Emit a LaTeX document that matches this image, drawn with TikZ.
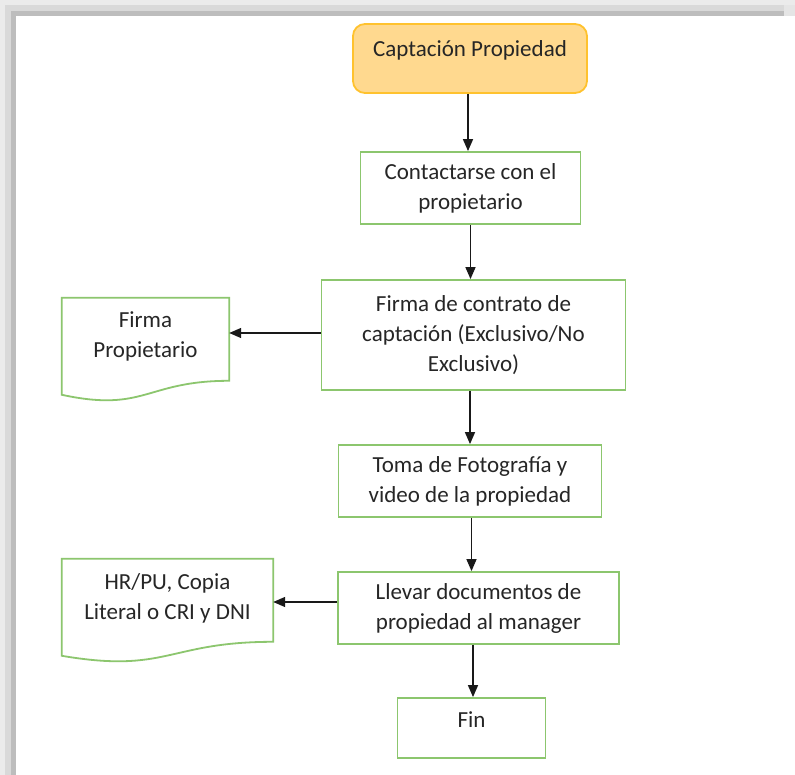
\documentclass[tikz,border=0pt]{standalone}
\usepackage{fontspec}
\setmainfont{Carlito}
\usetikzlibrary{arrows.meta,calc}

\definecolor{boxgreen}{HTML}{8CC66E}
\definecolor{startfill}{HTML}{FFD98F}
\definecolor{startline}{HTML}{FFC22E}
\definecolor{inktext}{HTML}{262626}

\tikzset{
  flowtext/.style={font=\fontsize{23}{30}\selectfont, text=inktext, align=center, inner sep=0pt},
  stepbox/.style={flowtext, draw=boxgreen, line width=1.8pt, fill=white},
  startbox/.style={flowtext, draw=startline, fill=startfill, line width=1.8pt, rounded corners=12pt},
  docnode/.style={flowtext},
  docshape/.style={draw=boxgreen, line width=1.8pt, fill=white},
  flowarrow/.style={draw=black!90, line width=1.4pt, -{Triangle[length=12pt,width=10pt]}}
}

\begin{document}
\begin{tikzpicture}[x=1pt,y=-1pt]
  \useasboundingbox (0,0) rectangle (795,775);
  \fill[white] (0,0) rectangle (795,775);

  % frame shadow along the top and left edges
  \fill[black!8]  (0,0) rectangle (795,5);
  \fill[black!15] (5,5) rectangle (784,11);
  \fill[black!26] (11,11) rectangle (784,16);
  \fill[black!10] (784,5) rectangle (795,16);
  \fill[black!8]  (0,0) rectangle (5,775);
  \fill[black!15] (5,5) rectangle (11,775);
  \fill[black!26] (11,11) rectangle (16,775);
  \fill[white] (16,16) rectangle (795,775);

  % process steps
  \node[startbox, minimum width=234pt, minimum height=69pt, text height=15pt, text depth=18pt]
    (start) at (470,58.5) {Captación Propiedad};
  \node[stepbox, minimum width=220pt, minimum height=72pt]
    (contact) at (470.5,188) {Contactarse con el\\propietario};
  \node[stepbox, minimum width=304pt, minimum height=110pt]
    (contract) at (473.5,335) {Firma de contrato de\\captación (Exclusivo/No\\Exclusivo)};
  \node[stepbox, minimum width=263pt, minimum height=72pt]
    (photo) at (470,481) {Toma de Fotografía y\\video de la propiedad};
  \node[stepbox, minimum width=281pt, minimum height=72pt]
    (docs) at (478.5,608) {Llevar documentos de\\propiedad al manager};
  \node[stepbox, minimum width=148pt, minimum height=60pt, text height=15pt, text depth=16pt]
    (fin) at (471.5,728) {Fin};

  % document symbols (wavy bottom edge)
  \node[docnode, minimum width=167pt, minimum height=76pt] (owner) at (145.5,336) {};
  \draw[docshape] (owner.north west) -- (owner.north east)
    -- ($(owner.north east)+(0,83)$)
    .. controls ($(owner.north)+(0,83)$) and ($(owner.north)+(0,115)$) ..
    ($(owner.north west)+(0,97)$) -- cycle;
  \node[docnode] at (owner) {Firma\\Propietario};

  \node[docnode, minimum width=211pt, minimum height=78pt] (papers) at (167.5,598) {};
  \draw[docshape] (papers.north west) -- (papers.north east)
    -- ($(papers.north east)+(0,83)$)
    .. controls ($(papers.north)+(0,83)$) and ($(papers.north)+(0,115)$) ..
    ($(papers.north west)+(0,97)$) -- cycle;
  \node[docnode] at (papers) {HR/PU, Copia\\Literal o CRI y DNI};

  % connectors
  \draw[flowarrow] ([xshift=-2pt]start.south) -- ([xshift=-2pt]start.south |- contact.north);
  \draw[flowarrow] (contact.south) -- (contact.south |- contract.north);
  \draw[flowarrow] ([xshift=-3.5pt]contract.south) -- ([xshift=-3.5pt]contract.south |- photo.north);
  \draw[flowarrow] ([xshift=1.5pt]photo.south) -- ([xshift=1.5pt]photo.south |- docs.north);
  \draw[flowarrow] ([xshift=1.5pt]fin.north |- docs.south) -- ([xshift=1.5pt]fin.north);
  \draw[flowarrow] ([yshift=2pt]contract.west) -- ([yshift=2pt]contract.west -| owner.east);
  \draw[flowarrow] ([yshift=6pt]docs.west) -- ([yshift=6pt]docs.west -| papers.east);
\end{tikzpicture}
\end{document}
